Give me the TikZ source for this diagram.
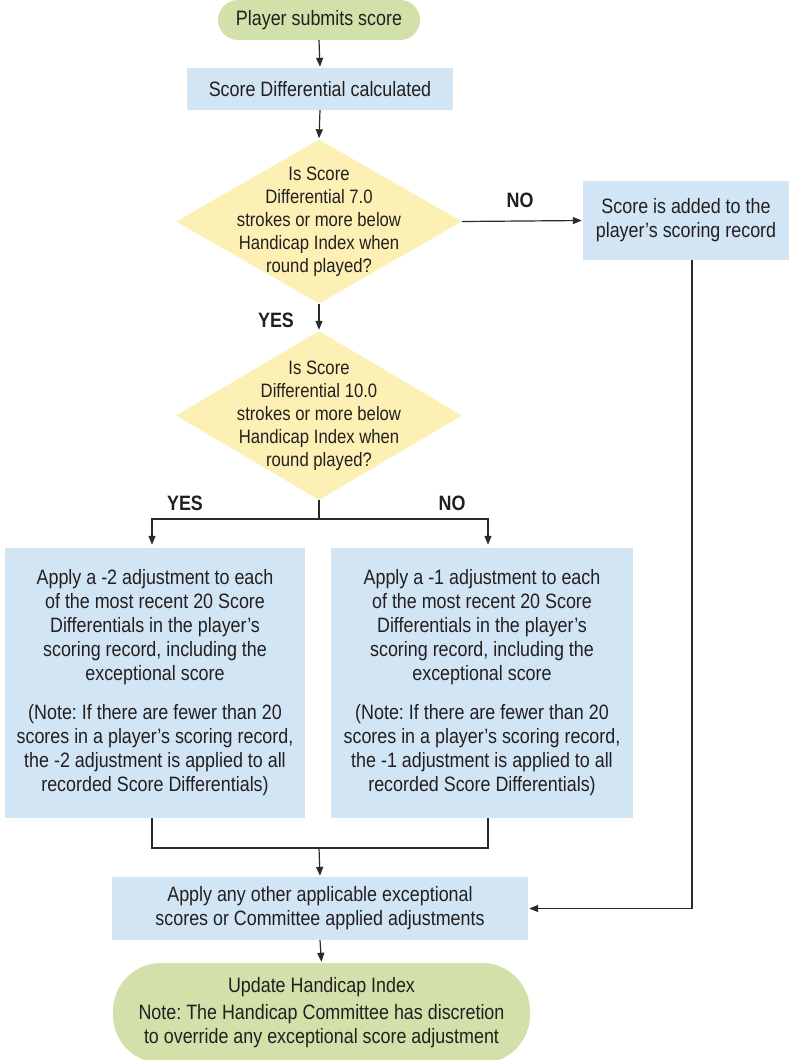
\documentclass[tikz,border=0pt]{standalone}
\usepackage{fontspec}
\setmainfont{Liberation Sans}[FakeStretch=0.86]
\frenchspacing
\usetikzlibrary{shapes.geometric,arrows.meta}
\definecolor{ink}{HTML}{231F20}
\definecolor{lineC}{HTML}{2A2A2A}
\definecolor{boxblue}{HTML}{D1E5F4}
\definecolor{pillgreen}{HTML}{D2E0AA}
\definecolor{diayellow}{HTML}{FDF0B4}
\tikzset{
  basefont/.style={font=\frenchspacing\fontsize{20.8}{24}\selectfont, text=ink, align=center},
  box/.style={basefont, rectangle, fill=boxblue, inner sep=0pt},
  pill/.style={basefont, rectangle, fill=pillgreen, inner sep=0pt},
  dia/.style={diamond, fill=diayellow, inner sep=0pt, aspect=1.74},
  diatext/.style={font=\frenchspacing\fontsize{19.4}{23}\selectfont, text=ink, align=center},
  lbl/.style={font=\bfseries\fontsize{20.8}{23}\selectfont, text=ink},
  conn/.style={draw=lineC, line width=1.2pt},
  arr/.style={conn, -{Triangle[length=9pt,width=7pt]}, shorten >=1pt}
}
\begin{document}
\begin{tikzpicture}[x=1pt,y=-1pt]
\useasboundingbox (0,0) rectangle (789,1060);
\clip (0,0) rectangle (789,1060);

\node[pill, minimum width=202, minimum height=40, rounded corners=20] (start) at (319,20) {Player submits score};
\node[box, minimum width=266, minimum height=42] (calc) at (320,89) {Score Differential calculated};
\node[dia, minimum width=286, minimum height=164] (d1) at (319,221.5) {};
\node[diatext] (d1t) at (d1.center) {Is Score\\Differential 7.0\\strokes or more below\\Handicap Index when\\round played?};
\node[box, minimum width=206, minimum height=79] (added) at (686,220.5) {Score is added to the\\player's scoring record};
\node[dia, minimum width=286, minimum height=169] (d2) at (319,415.5) {};
\node[diatext] (d2t) at (d2.center) {Is Score\\Differential 10.0\\strokes or more below\\Handicap Index when\\round played?};
\node[box, minimum width=300, minimum height=270] (lb) at (155,683) {Apply a -2 adjustment to each\\of the most recent 20 Score\\Differentials in the player's\\scoring record, including the\\exceptional score\\[15pt](Note: If there are fewer than 20\\scores in a player's scoring record,\\the -2 adjustment is applied to all\\recorded Score Differentials)};
\node[box, minimum width=302, minimum height=270] (rb) at (482,683) {Apply a -1 adjustment to each\\of the most recent 20 Score\\Differentials in the player's\\scoring record, including the\\exceptional score\\[15pt](Note: If there are fewer than 20\\scores in a player's scoring record,\\the -1 adjustment is applied to all\\recorded Score Differentials)};
\node[box, minimum width=416, minimum height=63] (apply) at (320,908.5) {Apply any other applicable exceptional\\scores or Committee applied adjustments};
\node[pill, minimum width=417, minimum height=100, rounded corners=48] (final) at (321.5,1013) {Update Handicap Index\\[3pt]Note: The Handicap Committee has discretion\\to override any exceptional score adjustment};

\node[lbl] (no1) at (520,200) {NO};
\node[lbl] (yes1) at (276,320) {YES};
\node[lbl] (yes2) at (185,503) {YES};
\node[lbl] (no2) at (452,503) {NO};

\draw[arr] (start.south) -- (calc.north);
\draw[arr] (calc.south) -- (d1.north);
\draw[arr] (d1.east) -- (added.west);
\draw[arr] (d1.south) -- (d2.north);
\coordinate (split) at (319,519);
\draw[conn] (d2.south) -- (split);
\draw[arr, shorten >=3pt] (split) -| ([xshift=-3pt]lb.north);
\draw[arr, shorten >=3pt] (split) -| ([xshift=6pt]rb.north);
\coordinate (merge) at (319,848);
\draw[conn] ([xshift=-3pt]lb.south) |- (merge) -| ([xshift=6pt]rb.south);
\draw[arr] (merge) -- (apply.north);
\draw[arr] ([xshift=6pt]added.south) |- (apply.east);
\draw[arr] (apply.south) -- (final.north);
\end{tikzpicture}
\end{document}
